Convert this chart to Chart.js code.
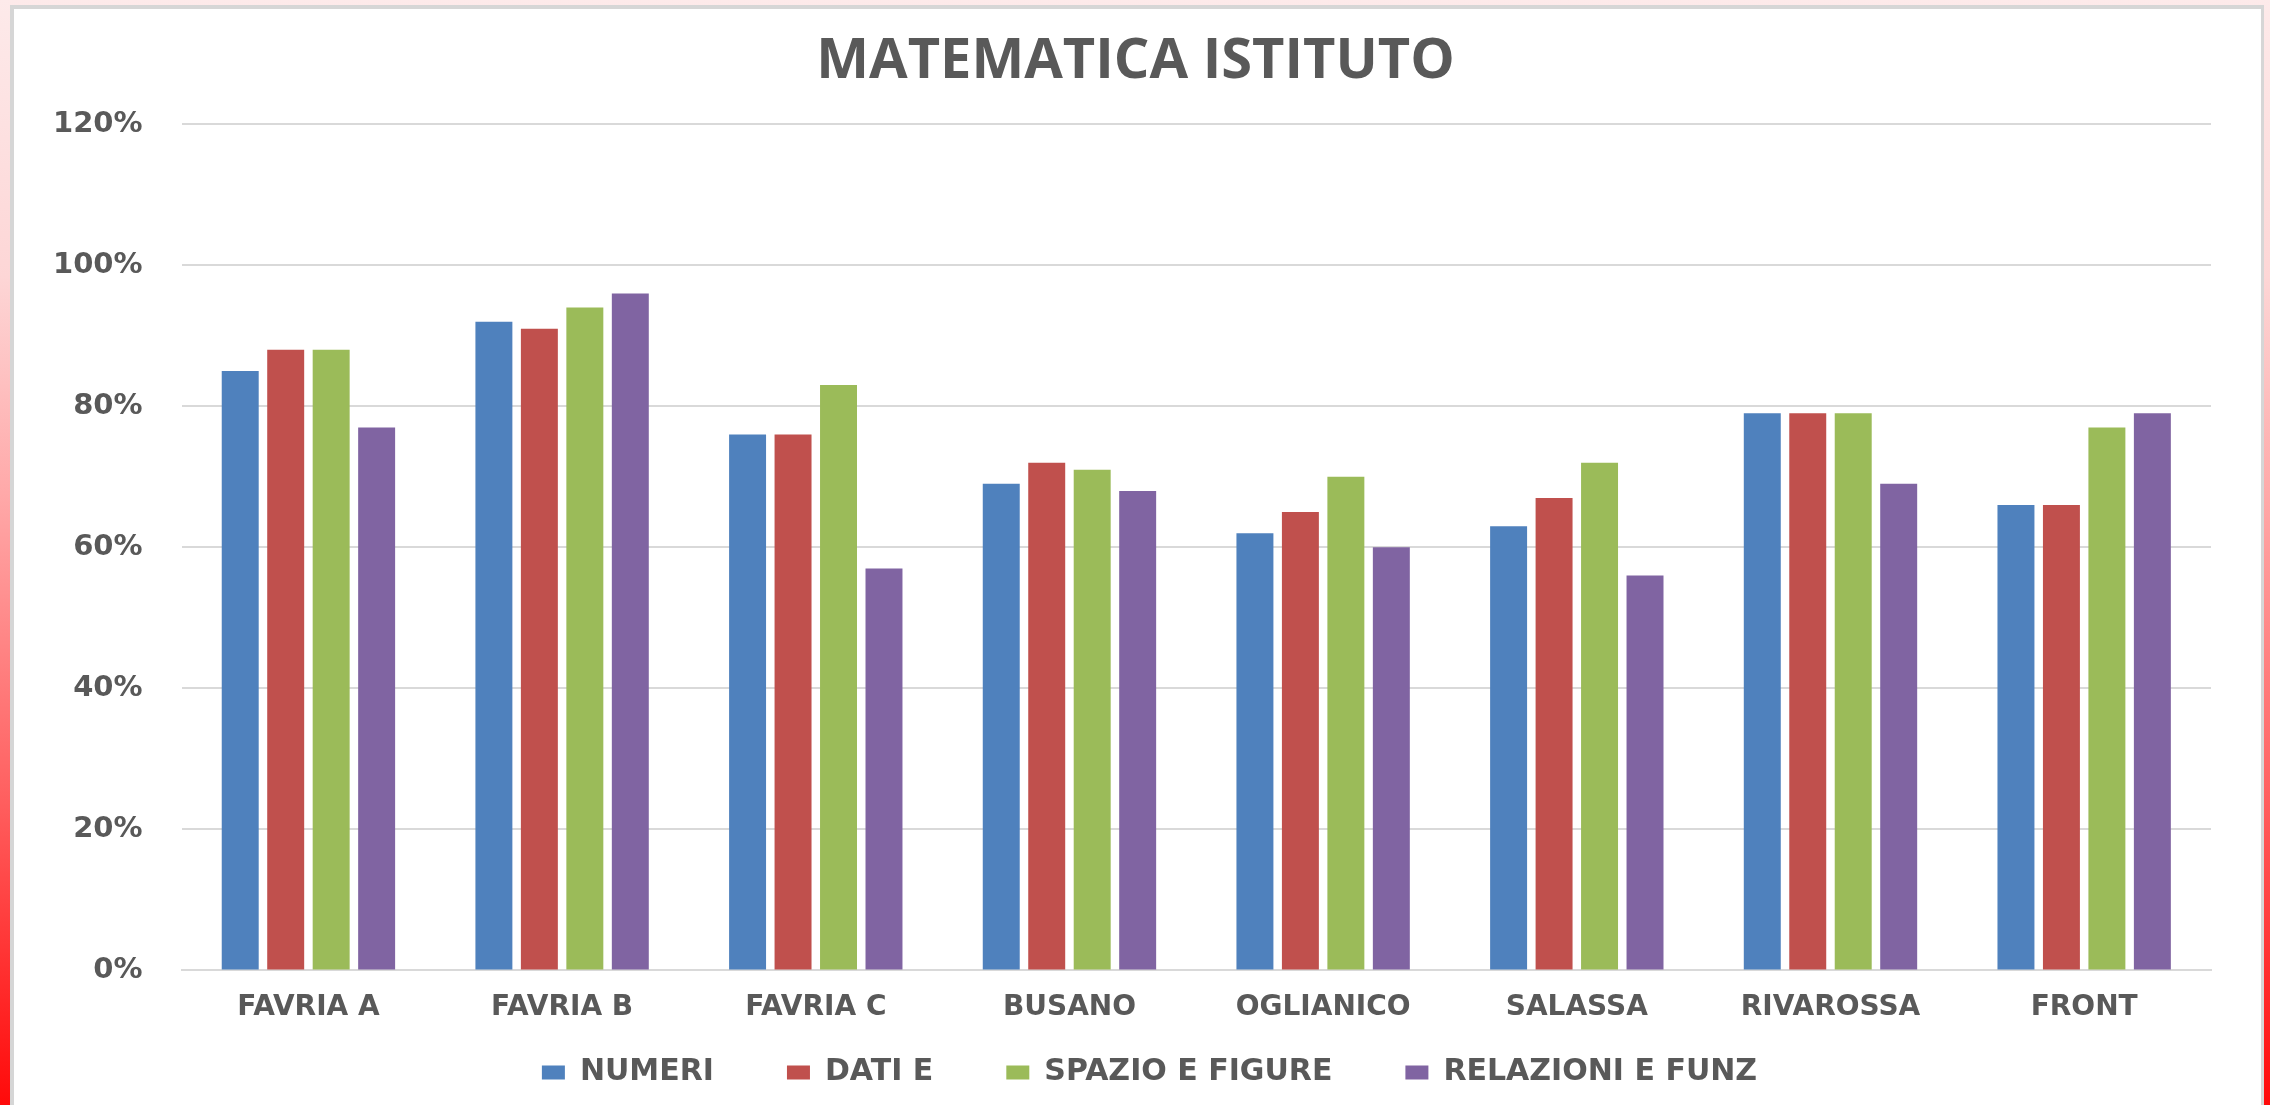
<!DOCTYPE html>
<html>
<head>
<meta charset="utf-8">
<title>MATEMATICA ISTITUTO</title>
<script src="https://cdn.jsdelivr.net/npm/chart.js@4"></script>
<style>
  html, body { margin: 0; padding: 0; }
  body {
    width: 2270px; height: 1105px; overflow: hidden;
    background: linear-gradient(to bottom, #fdeaea 0%, #fdd6d6 25%, #ffa8a8 45%, #ff6060 72%, #ff0a0a 100%);
  }
  #frame {
    position: absolute; left: 10px; top: 5px;
    width: 2247px; height: 1120px;
    background: #fff; border: 4px solid #d6d6d6; border-right-width: 3px;
  }
  canvas { display: block; }
</style>
</head>
<body>
<div id="frame"><canvas id="myChart" width="2247" height="1096"></canvas></div>
<script>
// Schools (categories)
const categories = ['FAVRIA A', 'FAVRIA B', 'FAVRIA C', 'BUSANO', 'OGLIANICO', 'SALASSA', 'RIVAROSSA', 'FRONT'];

// Series values, in percent
const numeri    = [85, 92, 76, 69, 62, 63, 79, 66];
const datiE     = [88, 91, 76, 72, 65, 67, 79, 66];
const spazio    = [88, 94, 83, 71, 70, 72, 79, 77];
const relazioni = [77, 96, 57, 68, 60, 56, 69, 79];

// Y axis range and step
const yMax = 120;
const yStep = 20;

const textColor = '#595959';
const gridColor = '#d9d9d9';

// The wide legend spacing also adds vertical room, so the legend takes
// almost no space in the layout and is placed by hand just under the axis.
// Title and legend are nudged right like in the original.
const nudgeBoxes = {
  id: 'nudgeBoxes',
  afterLayout(chart) {
    const lg = chart.legend;
    lg.top = chart.chartArea.bottom + 14;
    lg.bottom = lg.top + 120;
    lg.left += 37; lg.right += 37;
    const t = chart.titleBlock;
    t.left += 23; t.right += 23;
  }
};

const ctx = document.getElementById('myChart').getContext('2d');
const chart = new Chart(ctx, {
  type: 'bar',
  data: {
    labels: categories,
    datasets: [
      { label: 'NUMERI', data: numeri, backgroundColor: '#4f81bd' },
      { label: 'DATI E', data: datiE, backgroundColor: '#c0504d' },
      { label: 'SPAZIO E FIGURE', data: spazio, backgroundColor: '#9bbb59' },
      { label: 'RELAZIONI E FUNZ', data: relazioni, backgroundColor: '#8064a2' }
    ]
  },
  plugins: [nudgeBoxes],
  options: {
    responsive: false,
    devicePixelRatio: 1,
    animation: false,
    categoryPercentage: 0.717,
    barPercentage: 0.813,
    layout: { padding: { top: 0, left: 0, right: 50, bottom: 66 } },
    plugins: {
      title: {
        display: true,
        text: 'MATEMATICA ISTITUTO',
        color: textColor,
        font: { family: 'Open Sans', weight: 'bold', size: 56 },
        padding: { top: 19, bottom: 29 }
      },
      legend: {
        position: 'bottom',
        maxHeight: 1,
        labels: {
          color: textColor,
          boxWidth: 23,
          boxHeight: 14,
          padding: 73,
          font: { family: 'DejaVu Sans', weight: 'bold', size: 30 }
        }
      },
      tooltip: { enabled: false }
    },
    scales: {
      x: {
        grid: { display: false },
        border: { display: true, color: gridColor, width: 2 },
        ticks: {
          color: textColor,
          padding: 13,
          font: { family: 'DejaVu Sans', weight: 'bold', size: 28 }
        }
      },
      y: {
        min: 0,
        max: yMax,
        grid: { color: gridColor, lineWidth: 2, drawTicks: false },
        border: { display: false },
        ticks: {
          stepSize: yStep,
          color: textColor,
          padding: 39,
          font: { family: 'DejaVu Sans', weight: 'bold', size: 29 },
          callback: v => v + '%'
        }
      }
    }
  }
});
</script>
</body>
</html>
